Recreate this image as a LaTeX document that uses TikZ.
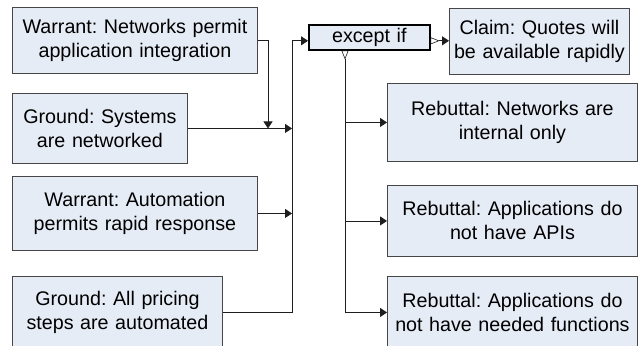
\documentclass[tikz,border=0pt]{standalone}
\usepackage{fontspec}
\setmainfont{Liberation Sans}
\frenchspacing
\usetikzlibrary{arrows.meta,calc}
\definecolor{boxfill}{RGB}{230,236,246}
\definecolor{boxline}{RGB}{70,70,70}
\definecolor{wire}{RGB}{30,30,30}
\tikzset{
  claimbox/.style={draw=boxline, fill=boxfill, line width=0.9pt, anchor=north west,
    inner sep=0pt, align=center, font=\fontsize{19.7}{24}\selectfont},
  gatebox/.style={draw=black, fill=boxfill, line width=1.6pt, anchor=north west,
    inner sep=0pt, align=center, font=\fontsize{19.7}{24}\selectfont},
  conn/.style={draw=wire, line width=0.9pt},
  head/.style={-{Triangle[length=7pt,width=9pt]}},
  tail/.style={{Triangle[open,reversed,length=9pt,width=7pt,line width=0.6pt]}-},
  tailhead/.style={{Triangle[open,reversed,length=9pt,width=7pt,line width=0.6pt]}-{Triangle[length=7pt,width=9pt]}},
}
\begin{document}
\begin{tikzpicture}[x=1pt,y=-1pt]
\useasboundingbox[fill=white] (0,0) rectangle (639,345);

% premises on the left
\node[claimbox, text width=245pt, minimum height=66pt] (w1) at (12,7)
  {Warrant: Networks permit\\application integration};
\node[claimbox, text width=175pt, minimum height=70pt] (g1) at (12,93)
  {Ground: Systems\\are networked};
\node[claimbox, text width=245pt, minimum height=74pt] (w2) at (12,176)
  {Warrant: Automation\\permits rapid response};
\node[claimbox, text width=210pt, minimum height=72pt] (g2) at (12,276)
  {Ground: All pricing\\steps are automated};

% qualifier and claim
\node[gatebox, text width=121pt, minimum height=25pt] (ex) at (308,24) {except if};
\node[claimbox, text width=180pt, minimum height=66pt] (claim) at (449,8)
  {Claim: Quotes will\\be available rapidly};

% rebuttals
\node[claimbox, text width=250pt, minimum height=78pt] (r1) at (387,83)
  {Rebuttal: Networks are\\internal only};
\node[claimbox, text width=250pt, minimum height=71pt] (r2) at (387,185)
  {Rebuttal: Applications do\\not have APIs};
\node[claimbox, text width=250pt, minimum height=72pt] (r3) at (387,276)
  {Rebuttal: Applications do\\not have needed functions};

% junction points
\coordinate (exin) at ($(ex.west)+(0,3.5)$);
\coordinate (exout) at ($(ex.east)+(0,3.5)$);
\coordinate (exdown) at ($(ex.south west)+(37,0)$);
\coordinate (bus) at (292,0);
\coordinate (drop) at (268,0);

% premises feeding the qualifier
\draw[conn,tail,head] (w1.east) -| (drop |- g1.east);
\draw[conn,tail,head] (g1.east) -- (bus |- g1.east);
\draw[conn,tail,head] (w2.east) -- (bus |- w2.east);
\draw[conn,tail,head] (g2.east) -| (bus |- exin) -- (exin);

% qualifier to claim
\draw[conn,tailhead] (exout) -- (claim.west |- exout);

% qualifier to rebuttals
\draw[conn,tailhead] (exdown) |- (r3.west);
\draw[conn,head] (exdown |- r1.west) -- (r1.west);
\draw[conn,head] (exdown |- r2.west) -- (r2.west);
\end{tikzpicture}
\end{document}
